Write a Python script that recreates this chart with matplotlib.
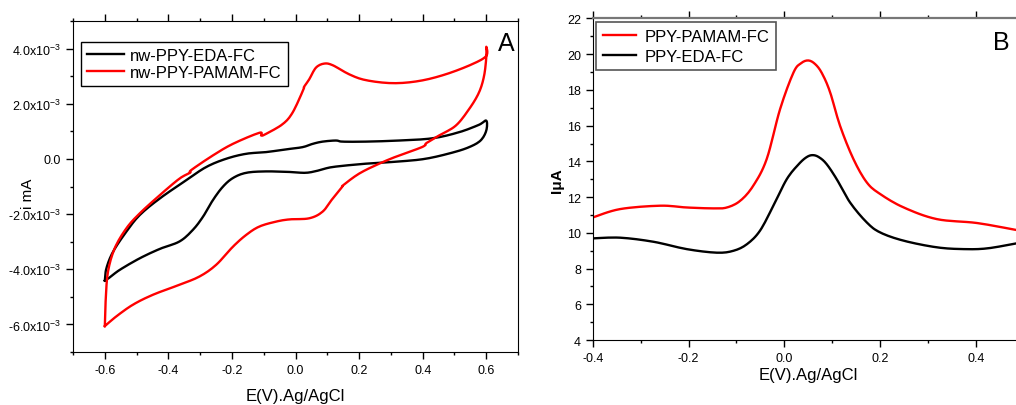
import numpy as np
import matplotlib
matplotlib.use("Agg")
import matplotlib.pyplot as plt
from matplotlib.ticker import MultipleLocator, FuncFormatter

plt.rcParams['font.family'] = ['Liberation Sans', 'DejaVu Sans']
plt.rcParams['mathtext.fontset'] = 'custom'
plt.rcParams['mathtext.rm'] = 'Liberation Sans'
plt.rcParams['mathtext.default'] = 'regular'

# ---- panel A: cyclic voltammograms (current in 1e-3 mA) ----
eda_E = [-0.6, -0.595, -0.574, -0.532, -0.490, -0.427, -0.344, -0.281, -0.218, -0.155,
         -0.093, -0.030, 0.022, 0.054, 0.085, 0.127, 0.148, 0.221, 0.326, 0.430,
         0.514, 0.577, 0.6, 0.6, 0.582, 0.546, 0.493, 0.410, 0.326, 0.221,
         0.117, 0.075, 0.033, -0.019, -0.093, -0.155, -0.197, -0.229, -0.260, -0.291,
         -0.323, -0.365, -0.427, -0.490, -0.553, -0.584, -0.6]
eda_i = [-4.41, -3.96, -3.36, -2.63, -2.03, -1.43, -0.77, -0.29, 0.01, 0.19,
         0.25, 0.35, 0.43, 0.55, 0.63, 0.67, 0.63, 0.63, 0.67, 0.75,
         0.97, 1.24, 1.39, 1.03, 0.67, 0.43, 0.23, 0.01, -0.09, -0.17,
         -0.29, -0.41, -0.50, -0.47, -0.45, -0.50, -0.69, -1.01, -1.49, -2.09,
         -2.57, -2.99, -3.26, -3.60, -4.02, -4.29, -4.41]

pamam_E = [-0.6, -0.597, -0.590, -0.569, -0.532, -0.490, -0.427, -0.365, -0.332, -0.328,
           -0.260, -0.197, -0.114, -0.108, -0.093, -0.040, -0.009, 0.024, 0.027, 0.043,
           0.064, 0.090, 0.117, 0.169, 0.221, 0.305, 0.389, 0.472, 0.556, 0.6,
           0.6, 0.6, 0.593, 0.577, 0.546, 0.504, 0.451, 0.412, 0.408, 0.389,
           0.326, 0.263, 0.200, 0.150, 0.146, 0.117, 0.085, 0.043, -0.019, -0.061,
           -0.114, -0.155, -0.197, -0.250, -0.302, -0.365, -0.448, -0.511, -0.563, -0.6]
pamam_i = [-6.06, -5.04, -4.08, -3.24, -2.51, -1.97, -1.31, -0.71, -0.50, -0.40,
           0.13, 0.55, 0.95, 0.85, 0.91, 1.27, 1.69, 2.50, 2.62, 2.89,
           3.31, 3.46, 3.40, 3.07, 2.86, 2.75, 2.83, 3.07, 3.44, 3.74,
           4.07, 3.68, 3.01, 2.41, 1.81, 1.21, 0.85, 0.58, 0.50, 0.39,
           0.13, -0.17, -0.53, -0.95, -1.02, -1.43, -1.91, -2.15, -2.19, -2.27,
           -2.45, -2.75, -3.18, -3.84, -4.26, -4.56, -4.92, -5.28, -5.70, -6.06]

# ---- panel B: DPV ----
dpv_pamam_E = [-0.4, -0.343, -0.259, -0.204, -0.148, -0.120, -0.092, -0.065, -0.037, -0.009,
               0.019, 0.035, 0.050, 0.064, 0.078, 0.095, 0.116, 0.144, 0.172, 0.2,
               0.249, 0.318, 0.402, 0.484]
dpv_pamam_i = [10.86, 11.33, 11.52, 11.42, 11.37, 11.42, 11.80, 12.64, 14.13, 16.93,
               18.98, 19.50, 19.65, 19.45, 18.95, 17.90, 16.0, 14.13, 12.82, 12.17,
               11.42, 10.77, 10.55, 10.16]
dpv_eda_E = [-0.4, -0.343, -0.273, -0.204, -0.141, -0.106, -0.078, -0.051, -0.023, 0.005,
             0.030, 0.047, 0.060, 0.073, 0.088, 0.109, 0.137, 0.172, 0.2, 0.249,
             0.318, 0.374, 0.423, 0.484]
dpv_eda_i = [9.69, 9.73, 9.50, 9.09, 8.89, 9.0, 9.37, 10.12, 11.52, 13.01,
             13.85, 14.25, 14.35, 14.22, 13.85, 13.01, 11.70, 10.58, 10.02, 9.56,
             9.19, 9.09, 9.13, 9.41]


def smooth(x, y, n=8):
    # catmull-rom through the read points so the curves look continuous
    x = np.asarray(x); y = np.asarray(y)
    P = np.column_stack([x, y])
    P = np.vstack([P[0], P, P[-1]])
    out = []
    t = np.linspace(0, 1, n, endpoint=False)
    for k in range(1, len(P) - 2):
        p0, p1, p2, p3 = P[k - 1], P[k], P[k + 1], P[k + 2]
        tt = t[:, None]
        seg = 0.5 * ((2 * p1) + (-p0 + p2) * tt + (2 * p0 - 5 * p1 + 4 * p2 - p3) * tt ** 2
                     + (-p0 + 3 * p1 - 3 * p2 + p3) * tt ** 3)
        out.append(seg)
    out.append(P[-2][None, :])
    out = np.vstack(out)
    return out[:, 0], out[:, 1]


fig = plt.figure(figsize=(10.16, 4.06), dpi=100)
axA = fig.add_axes([0.0719, 0.1305, 0.438, 0.815])
axB = fig.add_axes([0.5834, 0.160, 0.4245, 0.792])

lw = 1.7
x, y = smooth(eda_E, eda_i)
axA.plot(x, y * 1e-3, color='black', lw=lw, label='nw-PPY-EDA-FC')
x, y = smooth(pamam_E, pamam_i)
axA.plot(x, y * 1e-3, color='red', lw=lw, label='nw-PPY-PAMAM-FC')

axA.set_xlim(-0.7, 0.7)
axA.set_ylim(-7e-3, 5e-3)
axA.xaxis.set_major_locator(MultipleLocator(0.2))
axA.xaxis.set_minor_locator(MultipleLocator(0.1))
axA.yaxis.set_major_locator(MultipleLocator(2e-3))
axA.yaxis.set_minor_locator(MultipleLocator(1e-3))


def sci(v, pos):
    m = round(v * 1e3, 1)
    if abs(m) < 1e-9:
        return '0.0'
    return r'%.1fx10$^{-3}$' % m


axA.yaxis.set_major_formatter(FuncFormatter(sci))
axA.xaxis.set_major_formatter(FuncFormatter(lambda v, p: '%.1f' % v if abs(v) > 1e-9 else '0.0'))
axA.tick_params(which='both', direction='out', top=True, right=False, labelsize=9, width=1)
axA.tick_params(which='major', length=5)
axA.tick_params(which='minor', length=2.5)
axA.set_xlabel('E(V).Ag/AgCl', fontsize=12, labelpad=9)
axA.set_ylabel('i mA', fontsize=11)
axA.yaxis.set_label_coords(-0.085, 0.48)
axA.text(0.973, 0.934, 'A', transform=axA.transAxes, fontsize=18, ha='center', va='center')
legA = axA.legend(loc='upper left', bbox_to_anchor=(0.018, 0.937), borderaxespad=0,
                  fontsize=12, fancybox=False, edgecolor='black', framealpha=1,
                  handlelength=2.2, labelspacing=0.15, borderpad=0.35, handletextpad=0.4)
legA.get_frame().set_linewidth(1)

axB.plot(dpv_pamam_E, dpv_pamam_i, color='red', lw=lw, label='PPY-PAMAM-FC')
axB.plot(dpv_eda_E, dpv_eda_i, color='black', lw=lw, label='PPY-EDA-FC')
for ln in axB.lines:
    xs, ys = smooth(ln.get_xdata(), ln.get_ydata())
    ln.set_data(xs, ys)
axB.set_xlim(-0.4, 0.5)
axB.set_ylim(4, 22)
axB.xaxis.set_major_locator(MultipleLocator(0.2))
axB.xaxis.set_minor_locator(MultipleLocator(0.1))
axB.yaxis.set_major_locator(MultipleLocator(2))
axB.yaxis.set_minor_locator(MultipleLocator(1))
axB.xaxis.set_major_formatter(FuncFormatter(lambda v, p: '%.1f' % v if abs(v) > 1e-9 else '0.0'))
axB.tick_params(which='both', direction='out', top=True, right=False, labelsize=9, width=1)
axB.tick_params(which='major', length=5)
axB.tick_params(which='minor', length=2.5)
axB.spines['top'].set_color('#777777')
axB.spines['top'].set_linewidth(1.6)
axB.set_xlabel('E(V).Ag/AgCl', fontsize=12, labelpad=2)
axB.set_ylabel('IμA', fontsize=11, fontweight='bold', labelpad=2)
axB.text(0.947, 0.926, 'B', transform=axB.transAxes, fontsize=18, ha='center', va='center')
legB = axB.legend(loc='upper left', bbox_to_anchor=(0.0077, 0.989), borderaxespad=0,
                  fontsize=12, fancybox=False, edgecolor='#555555', framealpha=1,
                  handlelength=2.0, labelspacing=0.3, borderpad=0.4, handletextpad=0.5)
legB.get_frame().set_linewidth(1.2)

fig.savefig('out.png', dpi=100)
